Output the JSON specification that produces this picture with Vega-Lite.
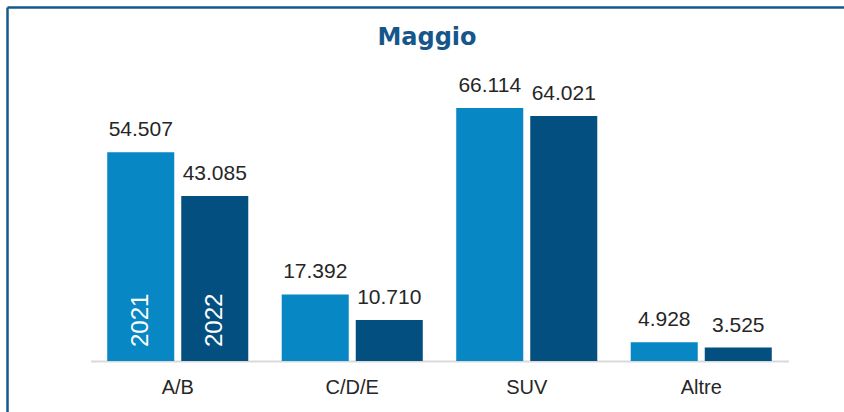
{
  "$schema": "https://vega.github.io/schema/vega-lite/v6.json",
  "autosize": {"type": "none"},
  "width": 837,
  "height": 405,
  "padding": {"left": 7, "top": 7, "right": 0, "bottom": 0},
  "background": "white",
  "config": {
    "view": {"stroke": null},
    "font": "Liberation Sans",
    "locale": {"number": {"decimal": ",", "thousands": ".", "grouping": [3], "currency": ["€", ""]}}
  },
  "title": {
    "text": "Maggio",
    "frame": "group",
    "anchor": "middle",
    "baseline": "alphabetic",
    "offset": -62,
    "dx": 1.5,
    "fontSize": 24,
    "fontWeight": "bold",
    "font": "DejaVu Sans",
    "color": "#17568a"
  },
  "data": {
    "values": [
      {"category": "A/B", "year": "2021", "value": 54507},
      {"category": "A/B", "year": "2022", "value": 43085},
      {"category": "C/D/E", "year": "2021", "value": 17392},
      {"category": "C/D/E", "year": "2022", "value": 10710},
      {"category": "SUV", "year": "2021", "value": 66114},
      {"category": "SUV", "year": "2022", "value": 64021},
      {"category": "Altre", "year": "2021", "value": 4928},
      {"category": "Altre", "year": "2022", "value": 3525}
    ]
  },
  "layer": [
    {
      "encoding": {
        "x": {
          "field": "category",
          "type": "nominal",
          "sort": ["A/B", "C/D/E", "SUV", "Altre"],
          "scale": {"range": [83.5, 781.5], "paddingInner": 0, "paddingOuter": 0},
          "axis": {
            "title": null,
            "orient": "bottom",
            "labelAngle": 0,
            "ticks": false,
            "tickSize": 0,
            "domainColor": "#d9d9d9",
            "domainWidth": 2,
            "labelFontSize": 20,
            "labelColor": "#262626",
            "labelFont": "Liberation Sans",
            "labelBaseline": "alphabetic",
            "labelPadding": 32,
            "offset": -51,
            "grid": false
          }
        },
        "xOffset": {
          "field": "year",
          "type": "nominal",
          "scale": {"paddingInner": 0.0946, "paddingOuter": 0.226}
        }
      },
      "layer": [
        {
          "mark": {"type": "bar"},
          "encoding": {
            "y": {
              "field": "value",
              "type": "quantitative",
              "scale": {"domain": [0, 70000], "range": [354, 86], "nice": false},
              "axis": null
            },
            "color": {
              "field": "year",
              "type": "nominal",
              "scale": {"domain": ["2021", "2022"], "range": ["#0787c3", "#034f80"]},
              "legend": null
            }
          }
        },
        {
          "mark": {"type": "text", "baseline": "alphabetic", "dy": -16, "fontSize": 21, "color": "#262626", "font": "Liberation Sans"},
          "encoding": {
            "y": {"field": "value", "type": "quantitative"},
            "text": {"field": "value", "type": "quantitative", "format": ",.0f"}
          }
        },
        {
          "transform": [{"filter": "datum.category === 'A/B'"}],
          "mark": {"type": "text", "angle": 270, "align": "left", "baseline": "middle", "dx": 14, "fontSize": 24, "color": "white", "font": "Liberation Sans"},
          "encoding": {
            "y": {"datum": 0, "type": "quantitative"},
            "text": {"field": "year", "type": "nominal"}
          }
        }
      ]
    },
    {
      "mark": {"type": "rule", "opacity": 0},
      "encoding": {
        "x": {
          "field": "category",
          "type": "nominal",
          "axis": {"orient": "top", "title": null, "labels": false, "ticks": false, "grid": false, "domainColor": "#17588b", "domainWidth": 2.5}
        },
        "y": {
          "field": "value",
          "type": "quantitative",
          "axis": {"orient": "left", "title": null, "labels": false, "ticks": false, "grid": false, "domainColor": "#17588b", "domainWidth": 2.5}
        }
      }
    }
  ],
  "resolve": {
    "scale": {"x": "independent", "y": "independent"},
    "axis": {"x": "independent", "y": "independent"}
  }
}
